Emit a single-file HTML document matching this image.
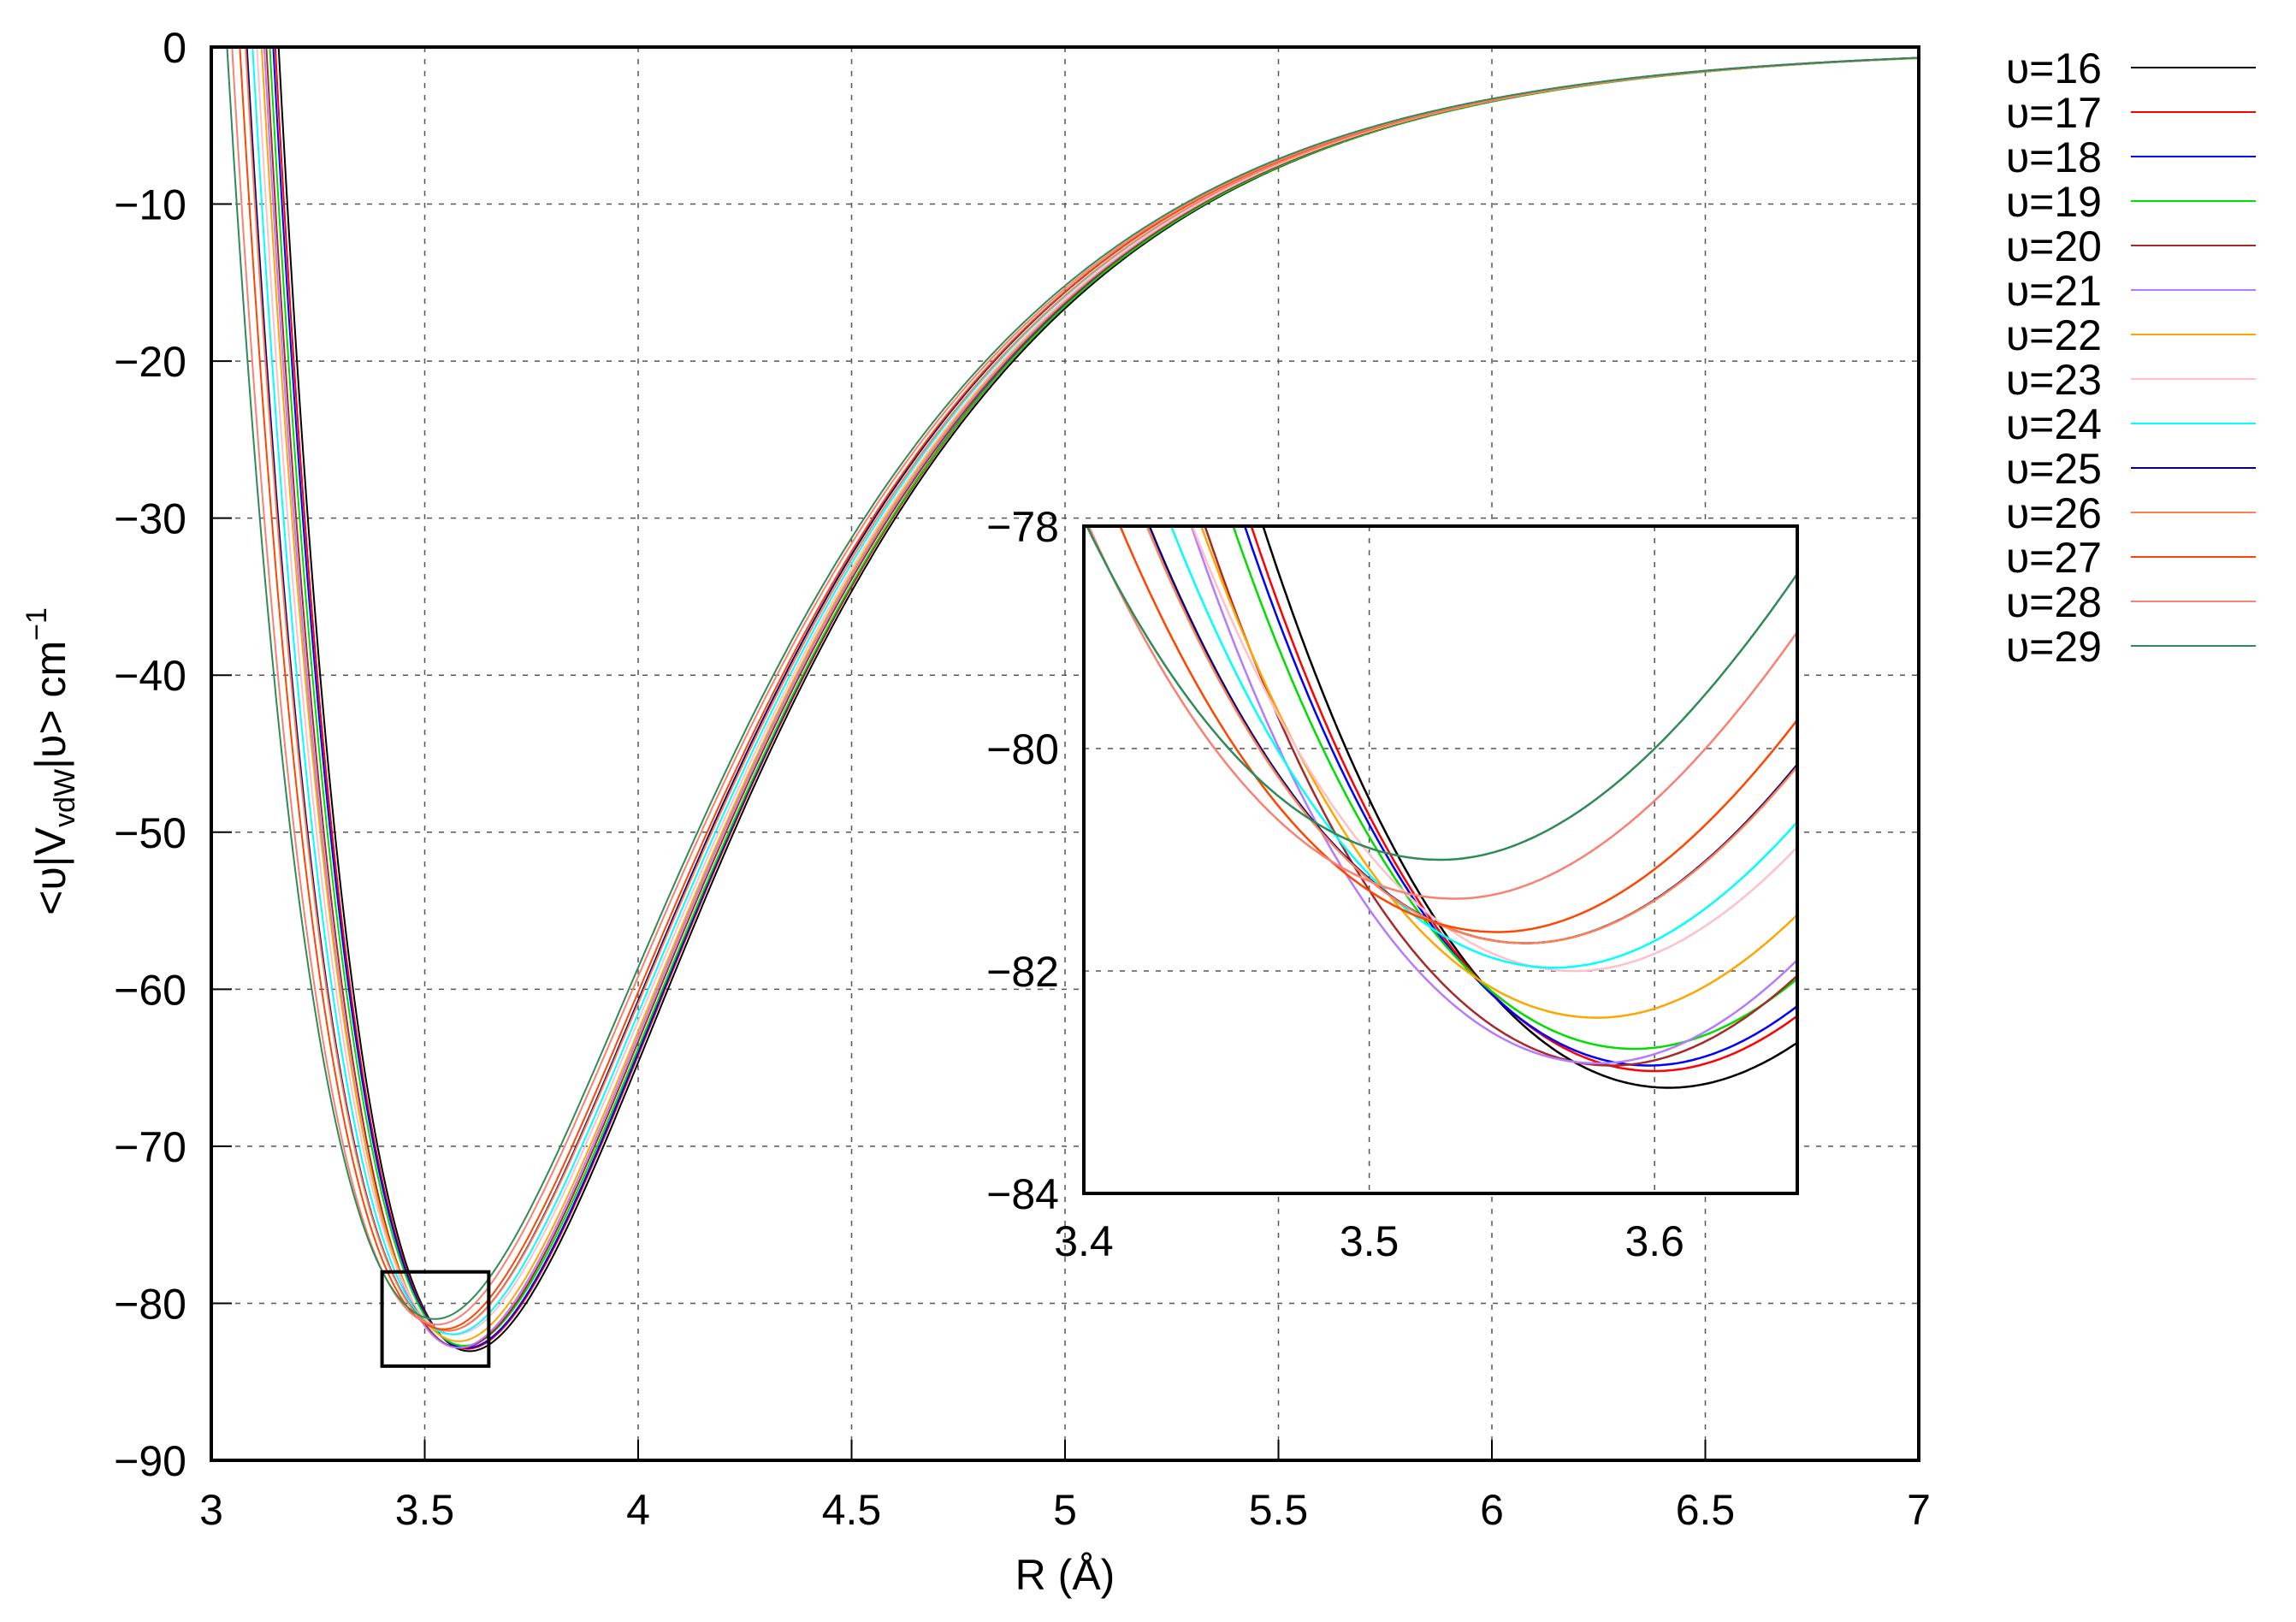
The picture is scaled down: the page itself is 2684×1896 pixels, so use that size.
<!DOCTYPE html>
<html><head><meta charset="utf-8"><style>
body{margin:0;background:#fff}
svg text{font-family:"Liberation Sans",sans-serif;fill:#000}
</style></head><body>
<svg id="chart" width="2684" height="1891" xmlns="http://www.w3.org/2000/svg">
<defs>
<clipPath id="mainClip"><rect x="247" y="55" width="1996" height="1652"/></clipPath>
<clipPath id="insetClip"><rect x="1267" y="615" width="834" height="780"/></clipPath>
</defs>
<g id="main-grid"></g>
<g id="main-series" clip-path="url(#mainClip)"></g>
<rect x="247" y="55" width="1996" height="1652" fill="none" stroke="#000" stroke-width="4"/>
<g id="main-ticks"></g>
<rect id="zoom-box" fill="none" stroke="#000" stroke-width="4"/>
<rect x="1267" y="615" width="834" height="780" fill="#fff"/>
<g id="inset-grid"></g>
<g id="inset-series" clip-path="url(#insetClip)"></g>
<rect x="1267" y="615" width="834" height="780" fill="none" stroke="#000" stroke-width="4"/>
<g id="inset-ticks"></g>
<g id="legend"></g>
<text x="1245" y="1858" font-size="50" text-anchor="middle">R (Å)</text>
<text transform="translate(76,890) rotate(-90)" font-size="50" text-anchor="middle">&lt;υ|V<tspan font-size="34" dy="11">vdW</tspan><tspan dy="-11">|υ&gt; cm</tspan><tspan font-size="34" dy="-22">−1</tspan></text>
</svg>
<script>
const seriesLabels=["υ=16","υ=17","υ=18","υ=19","υ=20","υ=21","υ=22","υ=23","υ=24","υ=25","υ=26","υ=27","υ=28","υ=29"];
const seriesColors=["#000000","#ff0000","#0000ff","#00dd00","#a52a2a","#b57bff","#ffa500","#ffc0cb","#00ffff","#000080","#ff7f50","#ff4500","#fa8072","#2e8b57"];
const wellDepth=[83.05,82.9,82.85,82.7,82.85,82.83,82.42,82.0,81.97,81.75,81.75,81.65,81.35,81.0];
const wellPosition=[3.605,3.600,3.598,3.593,3.585,3.580,3.580,3.572,3.565,3.555,3.555,3.545,3.530,3.525];
const innerWidth=[1.55,1.54,1.53,1.52,1.52,1.52,1.50,1.49,1.48,1.47,1.46,1.45,1.44,1.42];
const outerWidth=[1.61,1.61,1.61,1.60,1.60,1.60,1.60,1.59,1.59,1.59,1.58,1.58,1.57,1.57];
const mainXTicks=[3,3.5,4,4.5,5,5.5,6,6.5,7];
const mainYTicks=[0,-10,-20,-30,-40,-50,-60,-70,-80,-90];
const insetXTicks=[3.4,3.5,3.6];
const insetYTicks=[-78,-80,-82,-84];
const NS="http://www.w3.org/2000/svg";
function mk(tag,attrs,parent){const e=document.createElementNS(NS,tag);for(const k in attrs)e.setAttribute(k,attrs[k]);parent.appendChild(e);return e;}
function lin(d0,d1,r0,r1){return v=>r0+(v-d0)/(d1-d0)*(r1-r0);}
const mx=lin(3,7,247,2243), my=lin(0,-90,55,1707);
const ix=lin(3.4,3.65,1267,2101), iy=lin(-78,-84,615,1395);
function V(i,r){const a=r<wellPosition[i]?innerWidth[i]:outerWidth[i];const e=Math.exp(-a*(r-wellPosition[i]));return wellDepth[i]*((1-e)*(1-e)-1);}
function fmt(v){return (v<0?"−":"")+Math.abs(v);}
const FS=50;
const mg=document.getElementById('main-grid'), mt=document.getElementById('main-ticks');
mainXTicks.forEach(t=>{const x=mx(t);
 if(t>3&&t<7){const g=mk('line',{x1:x,x2:x,y1:55,y2:1707,stroke:'#555','stroke-width':1.5,'stroke-dasharray':'6,8'},mg);
 }
 const tk=mk('line',{x1:x,x2:x,y1:1707,y2:1683,stroke:'#000','stroke-width':2},mt);
 
 const l=mk('text',{x:x,y:1782,'font-size':FS,'text-anchor':'middle'},mt);l.textContent=fmt(t);
 });
mainYTicks.forEach(t=>{const y=my(t);
 if(t<0&&t>-90){const g=mk('line',{x1:247,x2:2243,y1:y,y2:y,stroke:'#555','stroke-width':1.5,'stroke-dasharray':'6,8'},mg);
 }
 const tk=mk('line',{x1:247,x2:271,y1:y,y2:y,stroke:'#000','stroke-width':2},mt);
 
 const l=mk('text',{x:218,y:y+18,'font-size':FS,'text-anchor':'end'},mt);l.textContent=fmt(t);
 });
const zb=document.getElementById('zoom-box');
zb.setAttribute('x',mx(3.4));zb.setAttribute('y',my(-78));zb.setAttribute('width',mx(3.65)-mx(3.4));zb.setAttribute('height',my(-84)-my(-78));
const ig=document.getElementById('inset-grid'), it=document.getElementById('inset-ticks');
insetXTicks.forEach(t=>{const x=ix(t);
 if(t>3.4){const g=mk('line',{x1:x,x2:x,y1:615,y2:1395,stroke:'#555','stroke-width':1.5,'stroke-dasharray':'6,8'},ig);
 }
 const l=mk('text',{x:x,y:1468,'font-size':FS,'text-anchor':'middle'},it);l.textContent=t.toFixed(1);
 });
insetYTicks.forEach(t=>{const y=iy(t);
 if(t<-78&&t>-84){const g=mk('line',{x1:1267,x2:2101,y1:y,y2:y,stroke:'#555','stroke-width':1.5,'stroke-dasharray':'6,8'},ig);
 }
 const l=mk('text',{x:1238,y:y+18,'font-size':FS,'text-anchor':'end'},it);l.textContent=fmt(t);
 });
const ms=document.getElementById('main-series'), is=document.getElementById('inset-series'), lg=document.getElementById('legend');
seriesLabels.forEach((lab,i)=>{
 let d='';for(let r=3.0;r<=7.0001;r+=0.004){const v=Math.min(V(i,r),20);d+=(d?'L':'M')+mx(r).toFixed(1)+','+my(v).toFixed(1);}
 const p=mk('path',{d:d,fill:'none',stroke:seriesColors[i],'stroke-width':2},ms);
 
 let d2='';for(let r=3.38;r<=3.67;r+=0.001){d2+=(d2?'L':'M')+ix(r).toFixed(1)+','+iy(V(i,r)).toFixed(1);}
 const p2=mk('path',{d:d2,fill:'none',stroke:seriesColors[i],'stroke-width':2.5},is);
 
 const y=79+52*i;
 const t=mk('text',{x:2457,y:y+18,'font-size':FS,'text-anchor':'end'},lg);t.textContent=lab;
 
 const ln=mk('line',{x1:2491,x2:2637,y1:y,y2:y,stroke:seriesColors[i],'stroke-width':2},lg);
 
});
</script>
</body></html>
